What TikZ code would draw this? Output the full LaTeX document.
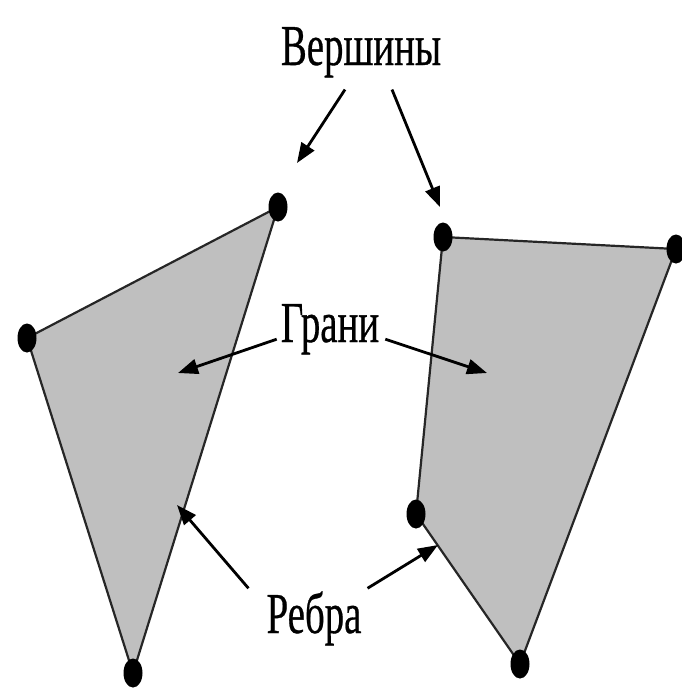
\documentclass[tikz,border=0pt]{standalone}
\usepackage{fontspec}
\setmainfont{Liberation Serif}
\newfontfamily\labelfont{Liberation Serif}[FakeBold=0.6]
\usetikzlibrary{arrows.meta,shapes.geometric}

\begin{document}
\begin{tikzpicture}[x=1pt,y=-1pt]
\tikzset{
  vertexdot/.style={ellipse,fill=black,draw=none,minimum width=19pt,minimum height=29pt,inner sep=0pt},
  faceshape/.style={fill=black!25,draw=black!85,line width=2.2pt,line join=round},
  labeltext/.style={font=\labelfont\fontsize{58}{64}\selectfont,xscale=0.67,inner sep=0pt,anchor=base},
  pointer/.style={draw=black,line width=2.8pt,-{Triangle[length=20pt,width=15pt]}}
}
\useasboundingbox (0,0) rectangle (681,694);
% vertices
\coordinate (p_A) at (278,207);
\coordinate (p_B) at (27,338);
\coordinate (p_C) at (133,673);
\coordinate (p_D) at (443,237);
\coordinate (p_E) at (676,249);
\coordinate (p_F) at (520,664);
\coordinate (p_G) at (416,514);
% faces
\draw[faceshape] (p_A) -- (p_B) -- (p_C) -- cycle;
\draw[faceshape] (p_D) -- (p_E) -- (p_F) -- (p_G) -- cycle;
\foreach \v in {A,B,C,D,E,F,G}
  \node[vertexdot] (n_\v) at (p_\v) {};
% labels
\node[labeltext] (l_vert) at (361,65) {Вершины};
\node[labeltext] (l_face) at (330,342) {Грани};
\node[labeltext] (l_edge) at (314,633) {Ребра};
% arrow tips
\coordinate (t_v1) at (297,163);
\coordinate (t_v2) at (440,207);
\coordinate (t_f1) at (178,373);
\coordinate (t_f2) at (487,373);
\coordinate (t_e1) at (177,505);
\coordinate (t_e2) at (438,545);
% pointers
\draw[pointer] ([xshift=-16pt,yshift=-12pt]l_vert.south) -- (t_v1);
\draw[pointer] ([xshift=31pt,yshift=-12pt]l_vert.south) -- (t_v2);
\draw[pointer] ([xshift=-4pt,yshift=-10pt]l_face.west) -- (t_f1);
\draw[pointer] ([xshift=6pt,yshift=-10pt]l_face.east) -- (t_f2);
\draw[pointer] ([xshift=-18pt,yshift=3pt]l_edge.north west) -- (t_e1);
\draw[pointer] ([xshift=6pt,yshift=3pt]l_edge.north east) -- (t_e2);
\end{tikzpicture}
\end{document}
